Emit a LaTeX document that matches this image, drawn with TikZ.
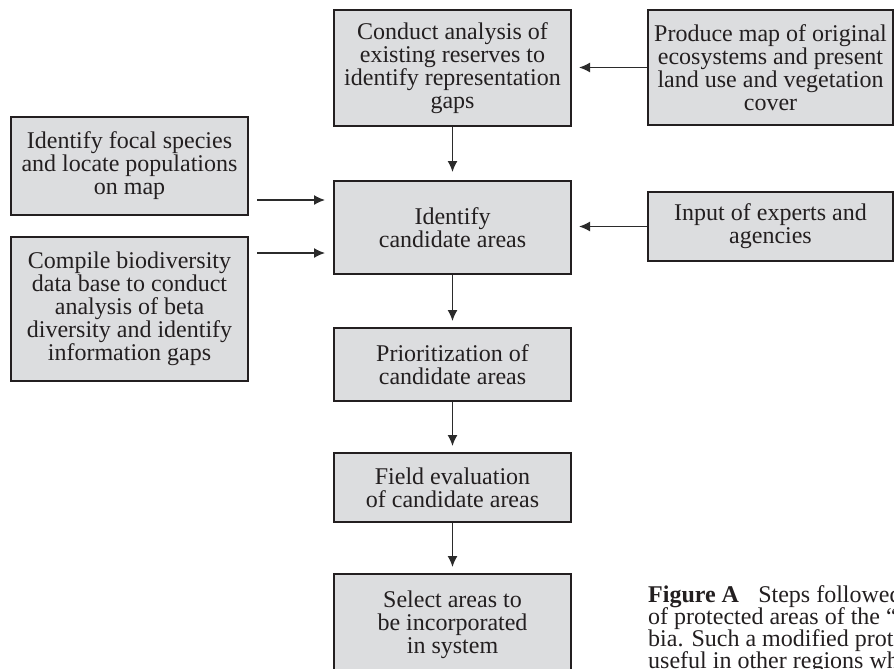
\documentclass[tikz,border=0pt]{standalone}
\usepackage{fontspec}
\setmainfont{Liberation Serif}
\usetikzlibrary{arrows.meta,calc}
\definecolor{boxfill}{HTML}{DCDDDF}
\definecolor{ink}{HTML}{231F20}
\definecolor{arrowc}{HTML}{2B2B2B}
\begin{document}
\begin{tikzpicture}[x=1pt,y=-1pt,
  stepbox/.style={draw=ink, line width=2pt, fill=boxfill, text=ink, align=center, inner sep=0pt, font=\fontsize{24}{23}\selectfont},
  arr/.style={draw=arrowc, line width=1.4pt, -{Latex[length=11pt,width=10pt]}},
  captext/.style={anchor=base west, inner sep=0pt, text=ink, font=\fontsize{24}{23}\selectfont}]
\useasboundingbox (0,0) rectangle (894,669);
\clip (0,0) rectangle (894,669);
\fill[white] (0,0) rectangle (894,669);
\node[stepbox, minimum width=237pt, minimum height=116pt] (top) at (452.5,68) {Conduct analysis of\\existing reserves to\\identify representation\\gaps};
\node[stepbox, minimum width=245pt, minimum height=115pt] (map) at (770.5,67.5) {Produce map of original\\ecosystems and present\\land use and vegetation\\cover};
\node[stepbox, minimum width=237pt, minimum height=98pt] (focal) at (129.5,166) {Identify focal species\\and locate populations\\on map};
\node[stepbox, minimum width=237pt, minimum height=144pt] (biodiv) at (129.5,309) {Compile biodiversity\\data base to conduct\\analysis of beta\\diversity and identify\\information gaps};
\node[stepbox, minimum width=237pt, minimum height=93pt] (mid) at (452.5,227.5) {Identify\\candidate areas};
\node[stepbox, minimum width=245pt, minimum height=69pt] (input) at (770.5,226.5) {Input of experts and\\agencies};
\node[stepbox, minimum width=237pt, minimum height=73pt] (prio) at (452.5,364.5) {Prioritization of\\candidate areas};
\node[stepbox, minimum width=237pt, minimum height=69pt] (field) at (452.5,487.5) {Field evaluation\\of candidate areas};
\node[stepbox, minimum width=237pt, minimum height=120pt] (select) at (452.5,634) {Select areas to\\be incorporated\\in system\\\mbox{}};

\draw[arr, shorten >=7pt] (map.west) -- (top.east |- map.west);
\draw[arr, shorten >=8pt] (top.south) -- (mid.north);
\coordinate (l1a) at ([yshift=16pt]focal.south east);
\coordinate (l2a) at ([yshift=-17pt]biodiv.north east);
\draw[arr, shorten <=8pt, shorten >=8pt] (l1a) -- (mid.west |- l1a);
\draw[arr, shorten <=8pt, shorten >=8pt] (l2a) -- (mid.west |- l2a);
\draw[arr, shorten >=7pt] (input.west) -- (mid.east |- input.west);
\draw[arr, shorten >=6pt] (mid.south) -- (prio.north);
\draw[arr, shorten >=6pt] (prio.south) -- (field.north);
\draw[arr, shorten >=6pt] (field.south) -- (select.north);

\node[captext] (cap1) at (648,602) {\textbf{Figure A}\hspace{0.8em}Steps followed to};
\node[captext] (cap2) at (648,624) {of protected areas of the “Eje};
\node[captext] (cap3) at (648,646) {bia. Such a modified protocol};
\node[captext] (cap4) at (648,668) {useful in other regions where};
\end{tikzpicture}
\end{document}
